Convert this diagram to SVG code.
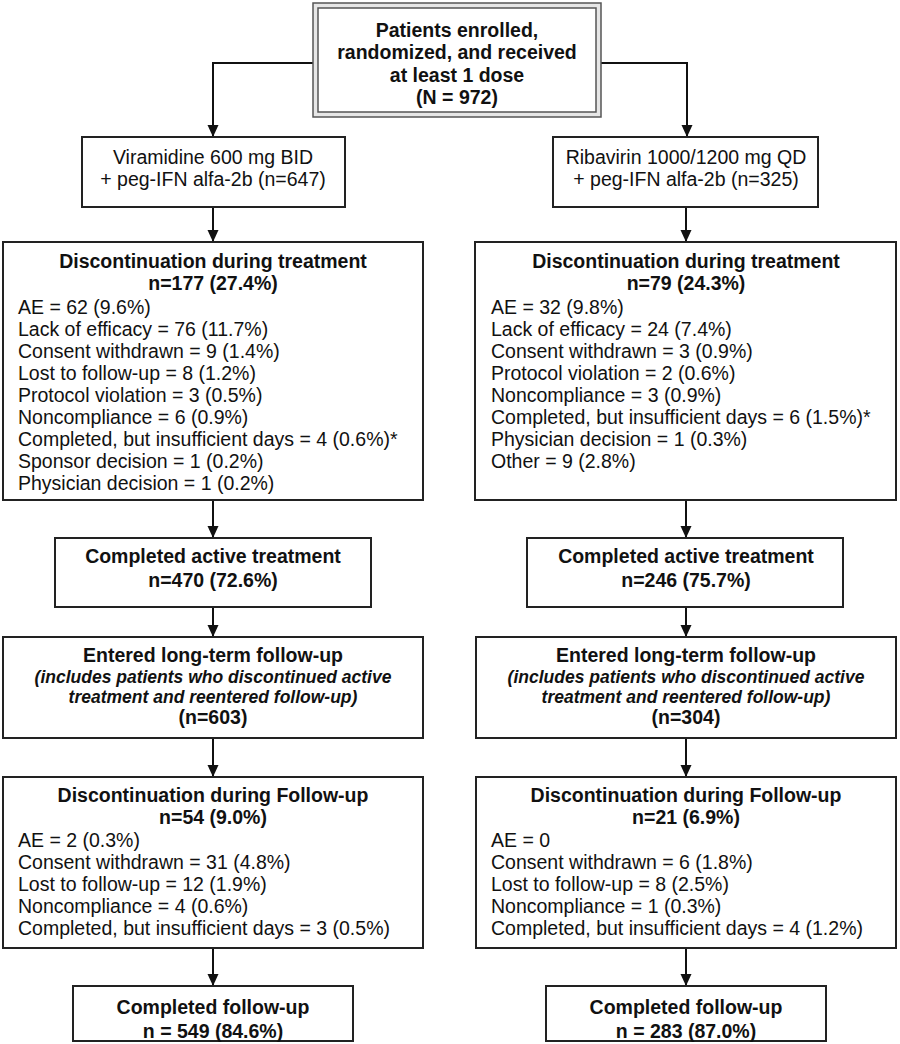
<svg xmlns="http://www.w3.org/2000/svg" width="900" height="1044" viewBox="0 0 900 1044">
<defs>
<style>
.box{fill:#fff;stroke:#222;stroke-width:2}
.t{font-family:"Liberation Sans",Arial,sans-serif;font-size:19.5px;fill:#111}
.b{font-weight:bold}
.c{text-anchor:middle}
.i{font-style:italic;font-size:17.5px}
.ln{fill:none;stroke:#111;stroke-width:2}
</style>
<marker id="ah" markerWidth="12" markerHeight="12" refX="11" refY="6" orient="auto" markerUnits="userSpaceOnUse">
<path d="M0,0.5 L12,6 L0,11.5 Z" fill="#111"/>
</marker>
</defs>
<rect width="900" height="1044" fill="#fff"/>
<g id="connectors">
<path class="ln" d="M313,63 H213 V136" marker-end="url(#ah)"/>
<path class="ln" d="M601,63 H687 V136" marker-end="url(#ah)"/>
<path class="ln" d="M213,207 V241" marker-end="url(#ah)"/>
<path class="ln" d="M686,207 V241" marker-end="url(#ah)"/>
<path class="ln" d="M213,500 V537" marker-end="url(#ah)"/>
<path class="ln" d="M686,500 V537" marker-end="url(#ah)"/>
<path class="ln" d="M213,607 V636" marker-end="url(#ah)"/>
<path class="ln" d="M686,607 V636" marker-end="url(#ah)"/>
<path class="ln" d="M213,738 V776" marker-end="url(#ah)"/>
<path class="ln" d="M686,738 V776" marker-end="url(#ah)"/>
<path class="ln" d="M213,948 V985" marker-end="url(#ah)"/>
<path class="ln" d="M686,948 V985" marker-end="url(#ah)"/>
</g>
<g id="enrolled">
<rect x="313" y="3" width="288" height="114" fill="#e6e6e6" stroke="#555" stroke-width="1.5"/>
<rect x="318" y="8" width="278" height="104" fill="#fff" stroke="#555" stroke-width="1.5"/>
<text class="t b c" x="457" y="37">Patients enrolled,</text>
<text class="t b c" x="457" y="59">randomized, and received</text>
<text class="t b c" x="457" y="82">at least 1 dose</text>
<text class="t b c" x="457" y="104">(N = 972)</text>
</g>
<g id="arm-viramidine">
<rect class="box" x="82" y="137" width="263" height="70"/>
<text class="t c" x="213" y="164">Viramidine 600 mg BID</text>
<text class="t c" x="213" y="186">+ peg-IFN alfa-2b (n=647)</text>
</g>
<g id="arm-ribavirin">
<rect class="box" x="553" y="137" width="265" height="70"/>
<text class="t c" x="686" y="164">Ribavirin 1000/1200 mg QD</text>
<text class="t c" x="686" y="186">+ peg-IFN alfa-2b (n=325)</text>
</g>
<g id="disc-treat-left">
<rect class="box" x="3" y="242" width="420" height="258"/>
<text class="t b c" x="213" y="268">Discontinuation during treatment</text>
<text class="t b c" x="213" y="290">n=177 (27.4%)</text>
<text class="t" x="18" y="314">AE = 62 (9.6%)</text>
<text class="t" x="18" y="336">Lack of efficacy = 76 (11.7%)</text>
<text class="t" x="18" y="358">Consent withdrawn = 9 (1.4%)</text>
<text class="t" x="18" y="380">Lost to follow-up = 8 (1.2%)</text>
<text class="t" x="18" y="402">Protocol violation = 3 (0.5%)</text>
<text class="t" x="18" y="424">Noncompliance = 6 (0.9%)</text>
<text class="t" x="18" y="446">Completed, but insufficient days = 4 (0.6%)*</text>
<text class="t" x="18" y="468">Sponsor decision = 1 (0.2%)</text>
<text class="t" x="18" y="490">Physician decision = 1 (0.2%)</text>
</g>
<g id="disc-treat-right">
<rect class="box" x="475" y="242" width="421" height="258"/>
<text class="t b c" x="686" y="268">Discontinuation during treatment</text>
<text class="t b c" x="686" y="290">n=79 (24.3%)</text>
<text class="t" x="491" y="314">AE = 32 (9.8%)</text>
<text class="t" x="491" y="336">Lack of efficacy = 24 (7.4%)</text>
<text class="t" x="491" y="358">Consent withdrawn = 3 (0.9%)</text>
<text class="t" x="491" y="380">Protocol violation = 2 (0.6%)</text>
<text class="t" x="491" y="402">Noncompliance = 3 (0.9%)</text>
<text class="t" x="491" y="424">Completed, but insufficient days = 6 (1.5%)*</text>
<text class="t" x="491" y="446">Physician decision = 1 (0.3%)</text>
<text class="t" x="491" y="468">Other = 9 (2.8%)</text>
</g>
<g id="completed-active-left">
<rect class="box" x="55" y="538" width="316" height="69"/>
<text class="t b c" x="213" y="563">Completed active treatment</text>
<text class="t b c" x="213" y="587">n=470 (72.6%)</text>
</g>
<g id="completed-active-right">
<rect class="box" x="527" y="538" width="316" height="69"/>
<text class="t b c" x="686" y="563">Completed active treatment</text>
<text class="t b c" x="686" y="587">n=246 (75.7%)</text>
</g>
<g id="ltfu-left">
<rect class="box" x="3" y="637" width="420" height="101"/>
<text class="t b c" x="213" y="662">Entered long-term follow-up</text>
<text class="t b i c" x="213" y="683">(includes patients who discontinued active</text>
<text class="t b i c" x="213" y="703">treatment and reentered follow-up)</text>
<text class="t b c" x="213" y="724">(n=603)</text>
</g>
<g id="ltfu-right">
<rect class="box" x="476" y="637" width="420" height="101"/>
<text class="t b c" x="686" y="662">Entered long-term follow-up</text>
<text class="t b i c" x="686" y="683">(includes patients who discontinued active</text>
<text class="t b i c" x="686" y="703">treatment and reentered follow-up)</text>
<text class="t b c" x="686" y="724">(n=304)</text>
</g>
<g id="disc-fu-left">
<rect class="box" x="3" y="777" width="420" height="171"/>
<text class="t b c" x="213" y="802">Discontinuation during Follow-up</text>
<text class="t b c" x="213" y="824">n=54 (9.0%)</text>
<text class="t" x="18" y="847">AE = 2 (0.3%)</text>
<text class="t" x="18" y="869">Consent withdrawn = 31 (4.8%)</text>
<text class="t" x="18" y="891">Lost to follow-up = 12 (1.9%)</text>
<text class="t" x="18" y="913">Noncompliance = 4 (0.6%)</text>
<text class="t" x="18" y="935">Completed, but insufficient days = 3 (0.5%)</text>
</g>
<g id="disc-fu-right">
<rect class="box" x="476" y="777" width="420" height="171"/>
<text class="t b c" x="686" y="802">Discontinuation during Follow-up</text>
<text class="t b c" x="686" y="824">n=21 (6.9%)</text>
<text class="t" x="491" y="847">AE = 0</text>
<text class="t" x="491" y="869">Consent withdrawn = 6 (1.8%)</text>
<text class="t" x="491" y="891">Lost to follow-up = 8 (2.5%)</text>
<text class="t" x="491" y="913">Noncompliance = 1 (0.3%)</text>
<text class="t" x="491" y="935">Completed, but insufficient days = 4 (1.2%)</text>
</g>
<g id="completed-fu-left">
<rect class="box" x="73" y="986" width="280" height="55"/>
<text class="t b c" x="213" y="1014">Completed follow-up</text>
<text class="t b c" x="213" y="1038">n = 549 (84.6%)</text>
</g>
<g id="completed-fu-right">
<rect class="box" x="546" y="986" width="280" height="55"/>
<text class="t b c" x="686" y="1014">Completed follow-up</text>
<text class="t b c" x="686" y="1038">n = 283 (87.0%)</text>
</g>
</svg>
